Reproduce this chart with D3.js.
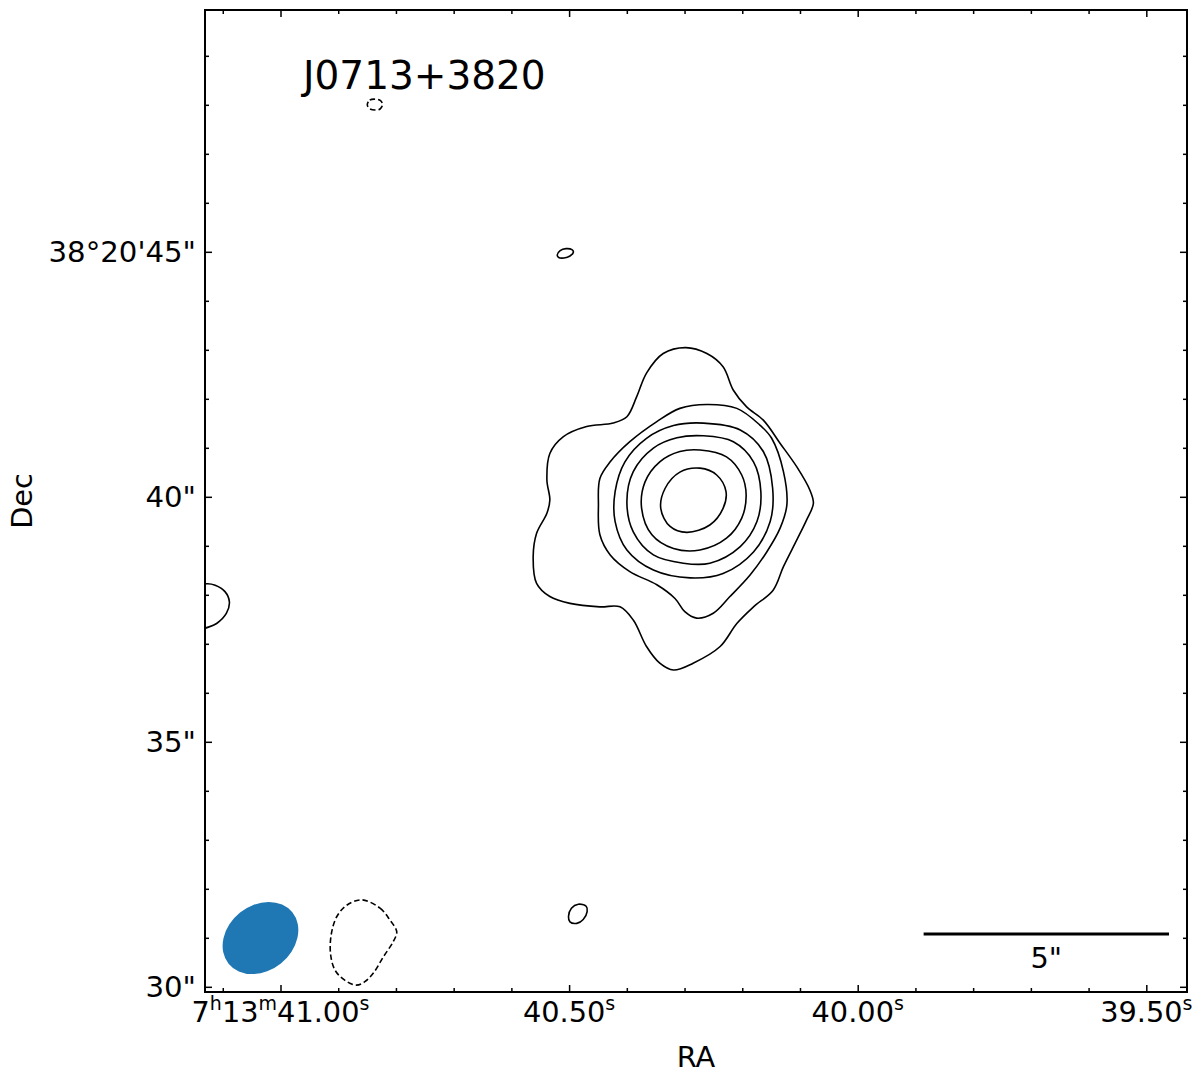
<!DOCTYPE html>
<html><head><meta charset="utf-8">
<script src="https://cdn.jsdelivr.net/npm/d3@7"></script>
<style>
body{margin:0;background:#fff}
text{font-family:"DejaVu Sans",sans-serif;fill:#000}
</style>
</head><body>
<svg id="c" width="1200" height="1074"></svg>
<script>
// ---------------- data ----------------
const title = "J0713+3820";
const raRef = 40.2732;      // RA seconds of offset origin (7h13m)
const decRef = 39.9347;     // Dec arcsec of offset origin (38°20')
const arcsecPerSec = 11.762; // 15 * cos(dec)
const raDomain = [41.1308, 39.4295];
const decDomain = [29.894, 49.935];
const raTicks = [41.00, 40.50, 40.00, 39.50];
const raTickLabels = ["7^h13^m41.00^s", "40.50^s", "40.00^s", "39.50^s"];
const raMinor = [41.1, 40.9, 40.8, 40.7, 40.6, 40.4, 40.3, 40.2, 40.1, 39.9, 39.8, 39.7, 39.6];
const decTicks = [30, 35, 40, 45];
const decTickLabels = ["30\"", "35\"", "40\"", "38°20'45\""];
const decMinor = [31,32,33,34,36,37,38,39,41,42,43,44,46,47,48,49];

// contour polygons: [east offset arcsec, north offset arcsec]
const level1 = [[0.75,2.99],[0.29,3.11],[-0.14,2.99],[-0.47,2.72],[-0.68,2.24],[-0.95,1.90],[-1.29,1.63],[-1.63,1.16],[-1.97,0.68],[-2.24,0.20],[-2.31,-0.07],[-2.17,-0.41],[-1.97,-0.82],[-1.70,-1.36],[-1.49,-1.84],[-1.09,-2.18],[-0.75,-2.52],[-0.41,-2.99],[0.14,-3.33],[0.54,-3.47],[0.82,-3.33],[1.09,-2.99],[1.36,-2.45],[1.63,-2.18],[2.04,-2.18],[2.65,-2.11],[3.06,-1.97],[3.33,-1.70],[3.40,-1.16],[3.33,-0.68],[3.12,-0.27],[3.06,0.00],[3.12,0.41],[3.06,0.95],[2.79,1.29],[2.31,1.50],[1.77,1.57],[1.49,1.70],[1.29,2.11],[1.09,2.59]];
const level2 = [[-0.14,1.95],[-0.75,1.87],[-1.22,1.53],[-1.46,1.26],[-1.70,0.58],[-1.77,-0.10],[-1.63,-0.58],[-1.36,-1.06],[-1.02,-1.53],[-0.61,-1.97],[-0.27,-2.31],[0.07,-2.41],[0.31,-2.28],[0.51,-2.01],[0.88,-1.73],[1.43,-1.46],[1.83,-1.12],[2.04,-0.71],[2.07,-0.10],[2.04,0.44],[1.83,0.78],[1.43,1.19],[0.88,1.60],[0.41,1.87]];
const level3 = [[-0.07,1.57],[-0.82,1.43],[-1.29,0.99],[-1.48,0.24],[-1.43,-0.44],[-1.09,-1.06],[-0.47,-1.50],[0.20,-1.59],[0.95,-1.43],[1.49,-1.02],[1.73,-0.44],[1.73,0.17],[1.53,0.78],[1.09,1.26],[0.54,1.52]];
const level4 = [[-0.07,1.31],[-0.68,1.19],[-1.09,0.78],[-1.24,0.17],[-1.16,-0.44],[-0.82,-0.95],[-0.20,-1.29],[0.34,-1.29],[0.95,-1.12],[1.36,-0.65],[1.49,-0.03],[1.36,0.58],[0.95,1.06],[0.47,1.27]];
const level5 = [[0.00,1.02],[-0.54,0.88],[-0.85,0.51],[-0.94,0.10],[-0.85,-0.37],[-0.54,-0.78],[0.00,-1.02],[0.54,-0.99],[0.98,-0.71],[1.19,-0.17],[1.12,0.37],[0.82,0.78],[0.41,0.99]];
const level6 = [[0.00,0.65],[-0.34,0.51],[-0.53,0.17],[-0.47,-0.17],[-0.20,-0.51],[0.27,-0.66],[0.61,-0.54],[0.80,-0.17],[0.71,0.24],[0.41,0.57]];
const blobNorth = [[2.91,5.00],[2.85,5.09],[2.73,5.13],[2.61,5.11],[2.58,5.06],[2.65,4.98],[2.77,4.94],[2.88,4.95]];
const blobSouth = [[2.68,-8.50],[2.62,-8.33],[2.48,-8.25],[2.32,-8.29],[2.30,-8.40],[2.38,-8.56],[2.51,-8.64],[2.65,-8.61]];
const negTop = [[6.78,8.07],[6.73,8.16],[6.62,8.18],[6.51,8.15],[6.47,8.07],[6.52,7.98],[6.62,7.96],[6.74,7.99]];
const negBottom = [[6.89,-8.16],[6.52,-8.33],[6.32,-8.57],[6.18,-8.81],[6.25,-9.01],[6.45,-9.32],[6.66,-9.66],[6.83,-9.83],[7.00,-9.90],[7.24,-9.80],[7.44,-9.59],[7.53,-9.25],[7.51,-8.84],[7.40,-8.50],[7.20,-8.27]];
const edgeArc = [[10.23,-1.76],[10.05,-1.71],[9.88,-1.74],[9.68,-1.87],[9.59,-2.08],[9.65,-2.31],[9.85,-2.52],[10.09,-2.62],[10.27,-2.69]];

const closedPositive = [level1, level2, level3, level4, level5, level6, blobNorth, blobSouth];
const closedNegative = [negTop, negBottom];
const openPositive = [edgeArc];

// beam (RA s, Dec arcsec, major/minor arcsec, PA deg)
const beam = {ra: 41.0347, dec: 30.996, bmaj: 1.67, bmin: 1.33, pa: -51.2};
// scale bar (right end RA s, Dec arcsec, length arcsec)
const scaleBar = {raEnd: 39.4607, dec: 31.078, len: 5, label: "5\""};

// ---------------- drawing ----------------
const svg = d3.select("#c");
const L = 205, R = 1187, T = 10, B = 992;
const FS = 28.8;
const x = d3.scaleLinear().domain(raDomain).range([L, R]);
const y = d3.scaleLinear().domain(decDomain).range([B, T]);
const pxPerArcsec = Math.abs(y(decRef + 1) - y(decRef));

svg.append("rect").attr("width",1200).attr("height",1074).attr("fill","#fff");

svg.append("clipPath").attr("id","clip").append("rect")
  .attr("x",L).attr("y",T).attr("width",R-L).attr("height",B-T);

const gx = d => x(raRef + d[0]/arcsecPerSec);
const gy = d => y(decRef + d[1]);
const closedLine = d3.line().x(gx).y(gy).curve(d3.curveCatmullRomClosed.alpha(0.5));
const openLine = d3.line().x(gx).y(gy).curve(d3.curveCatmullRom.alpha(0.5));

const plot = svg.append("g").attr("clip-path","url(#clip)");

// beam
plot.append("ellipse")
  .attr("cx", 0).attr("cy", 0)
  .attr("rx", beam.bmaj/2*pxPerArcsec).attr("ry", beam.bmin/2*pxPerArcsec)
  .attr("transform", `translate(${x(beam.ra)},${y(beam.dec)}) rotate(${-(90+beam.pa)})`)
  .attr("fill","#1f77b4");

plot.selectAll("path.pos").data(closedPositive).join("path").attr("class","pos")
  .attr("d", closedLine).attr("fill","none").attr("stroke","#000").attr("stroke-width",1.6);
plot.selectAll("path.neg").data(closedNegative).join("path").attr("class","neg")
  .attr("d", closedLine).attr("fill","none").attr("stroke","#000").attr("stroke-width",1.6)
  .attr("stroke-dasharray","5.5,3");
plot.selectAll("path.open").data(openPositive).join("path").attr("class","open")
  .attr("d", openLine).attr("fill","none").attr("stroke","#000").attr("stroke-width",1.6);

// scale bar
const sbX1 = x(scaleBar.raEnd + scaleBar.len/arcsecPerSec), sbX2 = x(scaleBar.raEnd), sbY = y(scaleBar.dec);
svg.append("line").attr("x1",sbX1).attr("x2",sbX2).attr("y1",sbY).attr("y2",sbY)
  .attr("stroke","#000").attr("stroke-width",3);
svg.append("text").attr("x",(sbX1+sbX2)/2).attr("y",sbY+34).attr("text-anchor","middle")
  .attr("font-size",FS).text(scaleBar.label);

// title
svg.append("text").attr("x",303).attr("y",89).attr("font-size",39).text(title);

// ticks (inward, all four sides)
function ticks(axisFn, scale, vals, size, tr){
  svg.append("g").attr("transform",tr)
    .call(axisFn(scale).tickValues(vals).tickSize(size).tickFormat(""))
    .call(g=>g.select(".domain").remove())
    .call(g=>g.selectAll("line").attr("stroke","#000").attr("stroke-width",1.5));
}
ticks(d3.axisBottom, x, raTicks, -7, `translate(0,${B})`);
ticks(d3.axisBottom, x, raMinor, -4, `translate(0,${B})`);
ticks(d3.axisTop, x, raTicks, -7, `translate(0,${T})`);
ticks(d3.axisTop, x, raMinor, -4, `translate(0,${T})`);
ticks(d3.axisLeft, y, decTicks, -7, `translate(${L},0)`);
ticks(d3.axisLeft, y, decMinor, -4, `translate(${L},0)`);
ticks(d3.axisRight, y, decTicks, -7, `translate(${R},0)`);
ticks(d3.axisRight, y, decMinor, -4, `translate(${R},0)`);

// frame
svg.append("rect").attr("x",L).attr("y",T).attr("width",R-L).attr("height",B-T)
  .attr("fill","none").attr("stroke","#000").attr("stroke-width",2);

// RA tick labels with superscripts
raTicks.forEach((v,i)=>{
  const t = svg.append("text").attr("x",x(v)).attr("y",1022).attr("text-anchor","middle").attr("font-size",FS);
  const parts = raTickLabels[i].split("^");
  parts.forEach((p,j)=>{
    if(j===0){ t.append("tspan").text(p); return; }
    t.append("tspan").attr("font-size",19).attr("dy",-12).text(p[0]);
    if(p.length>1) t.append("tspan").attr("dy",12).text(p.slice(1));
  });
});
// Dec tick labels
decTicks.forEach((v,i)=>{
  svg.append("text").attr("x",196).attr("y",y(v)+10).attr("text-anchor","end")
    .attr("font-size",29.2).text(decTickLabels[i]);
});

// axis titles
svg.append("text").attr("x",(L+R)/2).attr("y",1067).attr("text-anchor","middle").attr("font-size",FS).text("RA");
svg.append("text").attr("transform",`translate(32,${(T+B)/2}) rotate(-90)`).attr("text-anchor","middle").attr("font-size",FS).text("Dec");
</script>
</body></html>
